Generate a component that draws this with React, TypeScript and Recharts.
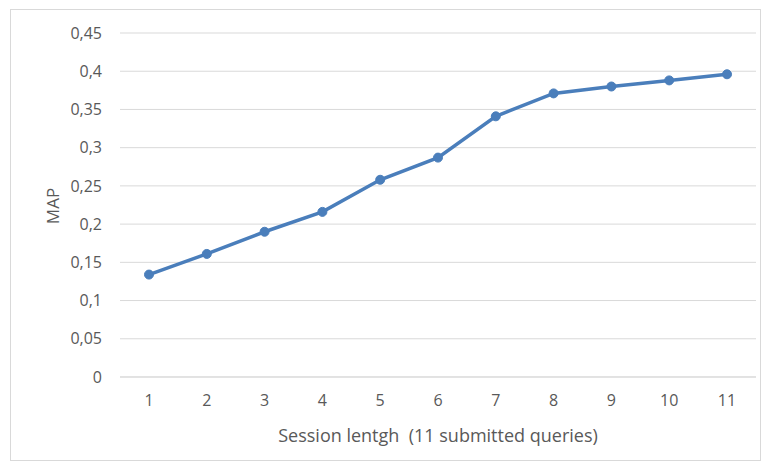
import React from 'react';
import { LineChart, Line, XAxis, YAxis, CartesianGrid, Label } from 'recharts';

// session length categories and MAP values
const sessionLengths = ['1', '2', '3', '4', '5', '6', '7', '8', '9', '10', '11'];
const mapValues = [0.134, 0.161, 0.19, 0.216, 0.258, 0.287, 0.341, 0.371, 0.38, 0.388, 0.396];
const yTicks = [0, 0.05, 0.1, 0.15, 0.2, 0.25, 0.3, 0.35, 0.4, 0.45];

const data = sessionLengths.map((name, i) => ({ name, map: mapValues[i] }));

const fmt = (v: number) => String(v).replace('.', ',');

const W = 765;
const H = 464;
const TOP = 33;
const XAXIS_H = 87;
const YAXIS_W = 120;

const font = '"Open Sans", "Noto Sans", sans-serif';
const tickStyle = { fill: '#595959', fontSize: 16, fontFamily: font };

// rotated y-axis title, centred on the plot height
const MapLabel = () => {
  const cx = 52;
  const cy = TOP + (H - XAXIS_H - TOP) / 2 + 1;
  return (
    <text
      transform={`translate(${cx},${cy}) rotate(-90)`}
      textAnchor="middle"
      dominantBaseline="central"
      fill="#595959"
      fontSize={17}
      fontFamily={font}
    >
      MAP
    </text>
  );
};

export default function App() {
  return (
    <div style={{ position: 'absolute', left: 0, top: 0, width: W, height: H, background: '#fff' }}>
      <div
        style={{
          position: 'absolute',
          left: 10,
          top: 9,
          width: 751,
          height: 452,
          border: '1px solid #d9d9d9',
          boxSizing: 'border-box',
        }}
      />
      <div style={{ position: 'absolute', left: 0, top: 0 }}>
        <LineChart width={W} height={H} data={data} margin={{ top: TOP, right: 9, bottom: 0, left: 0 }}>
          <CartesianGrid vertical={false} stroke="#d9d9d9" strokeWidth={1} />
          <XAxis
            dataKey="name"
            height={XAXIS_H}
            padding={{ left: 29, right: 29 }}
            axisLine={{ stroke: '#d9d9d9' }}
            tickLine={false}
            tick={tickStyle}
            fontSize={16}
            fontFamily={font}
            tickMargin={12}
          >
            <Label
              value={'Session lentgh \u00A0(11 submitted queries)'}
              position="insideBottom"
              offset={22}
              style={{ fill: '#595959', fontSize: 18, fontFamily: font }}
            />
          </XAxis>
          <YAxis
            width={YAXIS_W}
            domain={[0, 0.45]}
            ticks={yTicks}
            tickFormatter={fmt}
            axisLine={false}
            tickLine={false}
            tick={tickStyle}
            fontSize={16}
            fontFamily={font}
            tickMargin={12}
          >
            <Label content={MapLabel} />
          </YAxis>
          <Line
            dataKey="map"
            stroke="#4a7ebb"
            strokeWidth={3.5}
            dot={{ r: 4.5, fill: '#4a7ebb', stroke: '#4a7ebb', strokeWidth: 1 }}
            isAnimationActive={false}
          />
        </LineChart>
      </div>
    </div>
  );
}
